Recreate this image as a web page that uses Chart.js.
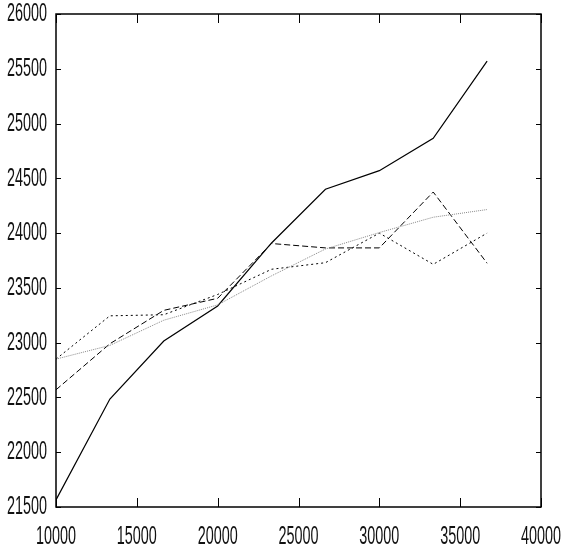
<!DOCTYPE html>
<html>
<head>
<meta charset="utf-8">
<script src="https://cdn.jsdelivr.net/npm/chart.js@4/dist/chart.umd.min.js"></script>
<style>
  html, body { margin: 0; padding: 0; background: #fff; }
  #wrap { width: 561px; height: 550px; }
</style>
</head>
<body>
<div id="wrap"><canvas id="chart" width="561" height="550"></canvas></div>
<script>
// values
var xValues = [10000, 13333, 16667, 20000, 23333, 26667, 30000, 33333, 36667];
var solidSeries  = [21565, 22485, 23015, 23335, 23910, 24400, 24570, 24865, 25570];
var dashedSeries = [22570, 22990, 23295, 23405, 23905, 23865, 23865, 24375, 23725];
var dottedSeries = [22850, 23245, 23255, 23440, 23670, 23730, 24000, 23715, 24000];
var graySeries   = [22850, 22975, 23205, 23345, 23610, 23855, 24005, 24145, 24215];

var xTicks = [10000, 15000, 20000, 25000, 30000, 35000, 40000];
var yTicks = [21500, 22000, 22500, 23000, 23500, 24000, 24500, 25000, 25500, 26000];

function toPoints(ys) {
    return ys.map(function(y, i) { return { x: xValues[i], y: y }; });
}

// frame, inward ticks and squeezed labels like the original plot
var framePlugin = {
    id: 'frame',
    afterDraw: function(chart) {
        var ctx = chart.ctx;
        var area = chart.chartArea;
        var xs = chart.scales.x, ys = chart.scales.y;
        ctx.save();
        ctx.strokeStyle = '#000';
        ctx.lineWidth = 1.5;
        ctx.strokeRect(area.left, area.top, area.right - area.left, area.bottom - area.top);

        ctx.lineWidth = 1;
        ctx.beginPath();
        xTicks.forEach(function(v) {
            var px = Math.round(xs.getPixelForValue(v)) + 0.5;
            ctx.moveTo(px, area.bottom); ctx.lineTo(px, area.bottom - 9);
            ctx.moveTo(px, area.top); ctx.lineTo(px, area.top + 9);
        });
        yTicks.forEach(function(v) {
            var py = Math.round(ys.getPixelForValue(v)) + 0.5;
            ctx.moveTo(area.left, py); ctx.lineTo(area.left + 5, py);
            ctx.moveTo(area.right, py); ctx.lineTo(area.right - 5, py);
        });
        ctx.stroke();

        ctx.fillStyle = '#111';
        ctx.font = '26px "Liberation Sans", Arial, sans-serif';
        ctx.textBaseline = 'middle';
        var target = 40;
        function label(text, x, y, align) {
            var w = ctx.measureText(text).width;
            var sx = target / w;
            ctx.save();
            ctx.translate(x, y);
            ctx.scale(sx, 1);
            ctx.textAlign = align;
            ctx.fillText(text, 0, 0);
            ctx.restore();
        }
        xTicks.forEach(function(v) {
            label(String(v), xs.getPixelForValue(v), area.bottom + 30, 'center');
        });
        yTicks.forEach(function(v) {
            label(String(v), area.left - 9, ys.getPixelForValue(v), 'right');
        });
        ctx.restore();
    }
};

var ctx = document.getElementById('chart');

var data = {
    datasets: [{
        data: toPoints(graySeries),
        borderColor: '#888',
        borderWidth: 1,
        borderDash: [1, 1]
    }, {
        data: toPoints(dottedSeries),
        borderColor: '#000',
        borderWidth: 1,
        borderDash: [2, 3]
    }, {
        data: toPoints(dashedSeries),
        borderColor: '#000',
        borderWidth: 1,
        borderDash: [6, 3]
    }, {
        data: toPoints(solidSeries),
        borderColor: '#000',
        borderWidth: 1.2
    }]
};

var options = {
    responsive: false,
    animation: false,
    layout: { padding: { left: 56, right: 20, top: 14, bottom: 43 } },
    elements: { point: { radius: 0 }, line: { tension: 0 } },
    plugins: { legend: { display: false }, tooltip: { enabled: false } },
    scales: {
        x: {
            type: 'linear', min: 10000, max: 40000,
            ticks: { display: false }, grid: { display: false }, border: { display: false },
            afterFit: function(scale) { scale.height = 0; }
        },
        y: {
            type: 'linear', min: 21500, max: 26000,
            ticks: { display: false }, grid: { display: false }, border: { display: false },
            afterFit: function(scale) { scale.width = 0; }
        }
    }
};

new Chart(ctx, {
    type: 'line',
    data: data,
    options: options,
    plugins: [framePlugin]
});
</script>
</body>
</html>
